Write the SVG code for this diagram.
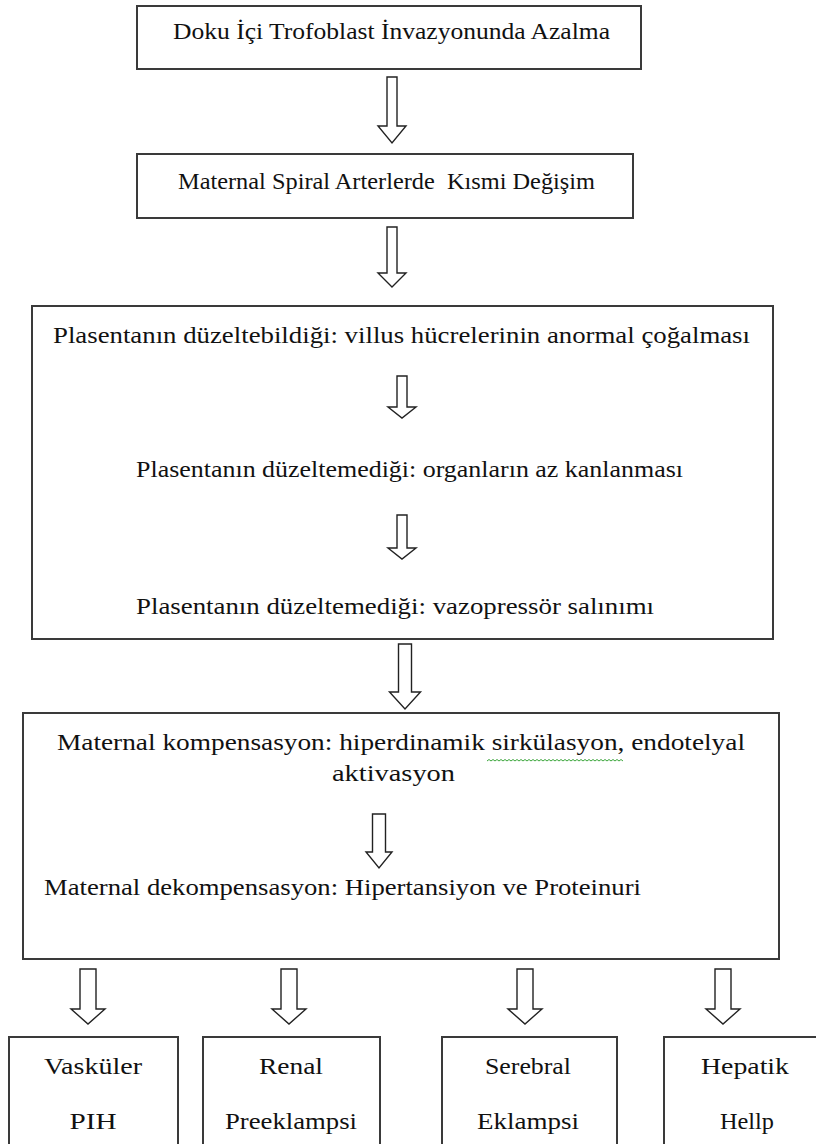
<svg xmlns="http://www.w3.org/2000/svg" width="816" height="1144" viewBox="0 0 816 1144">
<style>
.box{fill:#fff;stroke:#3a3a3a;stroke-width:2}
.arr{fill:#fff;stroke:#222;stroke-width:1.4;stroke-linejoin:miter}
.t{font-family:"Liberation Serif","Times New Roman",serif;font-size:24px;fill:#111}
.c{text-anchor:middle}
.sq{fill:none;stroke:#3aa53a;stroke-width:1}
</style>
<rect width="816" height="1144" fill="#fff"/>
<g id="n1">
<rect class="box" x="137" y="6" width="504" height="63"/>
<text class="t c" x="391.5" y="39" textLength="437" lengthAdjust="spacingAndGlyphs">Doku İçi Trofoblast İnvazyonunda Azalma</text>
</g>
<g id="n2">
<rect class="box" x="137" y="154" width="496" height="64"/>
<text class="t c" x="386.5" y="189" textLength="417" lengthAdjust="spacingAndGlyphs" style="white-space:pre">Maternal Spiral Arterlerde  Kısmi Değişim</text>
</g>
<g id="n3">
<rect class="box" x="32" y="306" width="741" height="333"/>
<text class="t c" x="401.5" y="343" textLength="697" lengthAdjust="spacingAndGlyphs">Plasentanın düzeltebildiği: villus hücrelerinin anormal çoğalması</text>
<text class="t c" x="409.5" y="477" textLength="547" lengthAdjust="spacingAndGlyphs">Plasentanın düzeltemediği: organların az kanlanması</text>
<text class="t c" x="395" y="614" textLength="518" lengthAdjust="spacingAndGlyphs">Plasentanın düzeltemediği: vazopressör salınımı</text>
</g>
<g id="n4">
<rect class="box" x="23" y="713" width="756" height="246"/>
<text class="t c" x="401" y="750" textLength="688" lengthAdjust="spacingAndGlyphs">Maternal kompensasyon: hiperdinamik sirkülasyon, endotelyal</text>
<text class="t c" x="393.5" y="781" textLength="123" lengthAdjust="spacingAndGlyphs">aktivasyon</text>
<path class="sq" d="M487 761 l2 -1.5 l2 1.5 l2 -1.5 l2 1.5 l2 -1.5 l2 1.5 l2 -1.5 l2 1.5 l2 -1.5 l2 1.5 l2 -1.5 l2 1.5 l2 -1.5 l2 1.5 l2 -1.5 l2 1.5 l2 -1.5 l2 1.5 l2 -1.5 l2 1.5 l2 -1.5 l2 1.5 l2 -1.5 l2 1.5 l2 -1.5 l2 1.5 l2 -1.5 l2 1.5 l2 -1.5 l2 1.5 l2 -1.5 l2 1.5 l2 -1.5 l2 1.5 l2 -1.5 l2 1.5 l2 -1.5 l2 1.5 l2 -1.5 l2 1.5 l2 -1.5 l2 1.5 l2 -1.5 l2 1.5 l2 -1.5 l2 1.5 l2 -1.5 l2 1.5 l2 -1.5 l2 1.5 l2 -1.5 l2 1.5 l2 -1.5 l2 1.5 l2 -1.5 l2 1.5 l2 -1.5 l2 1.5 l2 -1.5 l2 1.5 l2 -1.5 l2 1.5 l2 -1.5 l2 1.5 l2 -1.5 l2 1.5 l2 -1.5 l2 1.5"/>
<text class="t" x="44" y="895" textLength="597" lengthAdjust="spacingAndGlyphs">Maternal dekompensasyon: Hipertansiyon ve Proteinuri</text>
</g>
<g id="b1">
<rect class="box" x="9" y="1037" width="169" height="112"/>
<text class="t c" x="93" y="1074" textLength="98" lengthAdjust="spacingAndGlyphs">Vasküler</text>
<text class="t c" x="93" y="1129" textLength="47" lengthAdjust="spacingAndGlyphs">PIH</text>
</g>
<g id="b2">
<rect class="box" x="203" y="1037" width="177" height="112"/>
<text class="t c" x="291" y="1074" textLength="64" lengthAdjust="spacingAndGlyphs">Renal</text>
<text class="t c" x="291" y="1129" textLength="132" lengthAdjust="spacingAndGlyphs">Preeklampsi</text>
</g>
<g id="b3">
<rect class="box" x="442" y="1037" width="175" height="112"/>
<text class="t c" x="528" y="1074" textLength="86" lengthAdjust="spacingAndGlyphs">Serebral</text>
<text class="t c" x="528" y="1129" textLength="102" lengthAdjust="spacingAndGlyphs">Eklampsi</text>
</g>
<g id="b4">
<rect class="box" x="664" y="1037" width="160" height="112"/>
<text class="t c" x="745" y="1074" textLength="88" lengthAdjust="spacingAndGlyphs">Hepatik</text>
<text class="t c" x="747" y="1129" textLength="54" lengthAdjust="spacingAndGlyphs">Hellp</text>
</g>
<g id="connectors">
<path class="arr" d="M387 77 H397 V126 H406 L392 143 L378 126 H387 Z"/>
<path class="arr" d="M387 227 H397 V273 H406 L392 287 L378 273 H387 Z"/>
<path class="arr" d="M397 376 H407 V407 H416 L402 418 L388 407 H397 Z"/>
<path class="arr" d="M397 515 H407 V548 H416 L402 559 L388 548 H397 Z"/>
<path class="arr" d="M398.5 644 H411.5 V692 H420.5 L405 709 L389.5 692 H398.5 Z"/>
<path class="arr" d="M372.5 814 H385.5 V852 H392 L379 868 L366 852 H372.5 Z"/>
<path class="arr" d="M80 969 H96 V1009 H105 L88 1024 L71 1009 H80 Z"/>
<path class="arr" d="M281 969 H297 V1009 H306 L289 1024 L272 1009 H281 Z"/>
<path class="arr" d="M517 969 H533 V1009 H542 L525 1024 L508 1009 H517 Z"/>
<path class="arr" d="M715 969 H731 V1009 H740 L723 1024 L706 1009 H715 Z"/>
</g>
</svg>
